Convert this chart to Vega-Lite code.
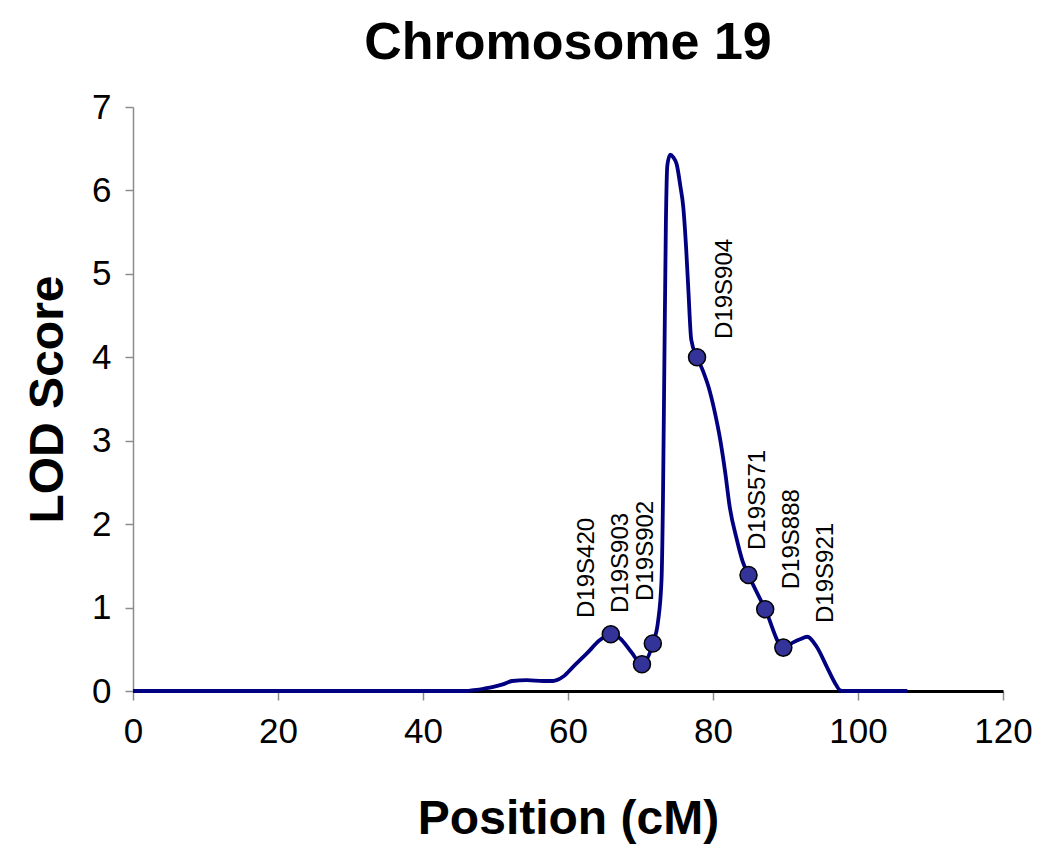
{
  "$schema": "https://vega.github.io/schema/vega-lite/v6.json",
  "width": 870,
  "height": 584,
  "autosize": "none",
  "padding": {"left": 133, "top": 107, "right": 47, "bottom": 158},
  "background": "white",
  "title": {
    "text": "Chromosome 19",
    "font": "Liberation Sans",
    "fontSize": 52,
    "fontWeight": "bold",
    "color": "black",
    "anchor": "middle",
    "baseline": "alphabetic",
    "offset": -21
  },
  "config": {
    "view": {"stroke": null},
    "axis": {
      "grid": false,
      "labelFont": "Liberation Sans",
      "labelFontSize": 35,
      "labelColor": "black",
      "labelFlush": false,
      "labelOverlap": false,
      "titleFont": "Liberation Sans",
      "titleFontSize": 48,
      "titleFontWeight": "bold",
      "titleColor": "black",
      "tickColor": "#8c8c8c",
      "tickWidth": 1.5,
      "domainColor": "#8c8c8c",
      "domainWidth": 1.5
    }
  },
  "datasets": {
    "curve": [
      {"pos": 0, "lod": 0},
      {"pos": 46, "lod": 0},
      {"pos": 47, "lod": 0.01},
      {"pos": 48.5, "lod": 0.03},
      {"pos": 49.7, "lod": 0.05},
      {"pos": 51, "lod": 0.08},
      {"pos": 52.3, "lod": 0.12},
      {"pos": 54.3, "lod": 0.13},
      {"pos": 56.6, "lod": 0.12},
      {"pos": 57.9, "lod": 0.12},
      {"pos": 59.3, "lod": 0.17},
      {"pos": 60.7, "lod": 0.29},
      {"pos": 62.6, "lod": 0.45},
      {"pos": 64.4, "lod": 0.61},
      {"pos": 65.9, "lod": 0.68},
      {"pos": 67.2, "lod": 0.63},
      {"pos": 68.7, "lod": 0.47},
      {"pos": 70.2, "lod": 0.32},
      {"pos": 71.7, "lod": 0.57},
      {"pos": 72.4, "lod": 0.82},
      {"pos": 72.9, "lod": 1.33},
      {"pos": 73.1, "lod": 2.3},
      {"pos": 73.3, "lod": 4.0},
      {"pos": 73.5, "lod": 5.6},
      {"pos": 73.7, "lod": 6.3},
      {"pos": 74.1, "lod": 6.43},
      {"pos": 74.5, "lod": 6.4},
      {"pos": 75.0, "lod": 6.31},
      {"pos": 75.5, "lod": 6.05},
      {"pos": 75.9, "lod": 5.8},
      {"pos": 76.3, "lod": 5.3},
      {"pos": 76.6, "lod": 4.81},
      {"pos": 77.0, "lod": 4.21},
      {"pos": 77.8, "lod": 4.0},
      {"pos": 78.6, "lod": 3.84},
      {"pos": 79.4, "lod": 3.64},
      {"pos": 80.2, "lod": 3.36},
      {"pos": 81.0, "lod": 3.01},
      {"pos": 81.7, "lod": 2.61},
      {"pos": 82.3, "lod": 2.21},
      {"pos": 83.3, "lod": 1.81},
      {"pos": 84.1, "lod": 1.55},
      {"pos": 84.9, "lod": 1.39},
      {"pos": 87.2, "lod": 0.98},
      {"pos": 89.7, "lod": 0.52},
      {"pos": 91.0, "lod": 0.58},
      {"pos": 92.0, "lod": 0.62},
      {"pos": 93.0, "lod": 0.65},
      {"pos": 94.3, "lod": 0.53},
      {"pos": 95.7, "lod": 0.29},
      {"pos": 96.8, "lod": 0.1},
      {"pos": 97.5, "lod": 0.01},
      {"pos": 98, "lod": 0},
      {"pos": 106.8, "lod": 0}
    ],
    "markers": [
      {"marker": "D19S420", "pos": 65.9, "lod": 0.68, "lx": 62.6, "ly": 0.875},
      {"marker": "D19S903", "pos": 70.2, "lod": 0.32, "lx": 67.3, "ly": 0.935},
      {"marker": "D19S902", "pos": 71.7, "lod": 0.57, "lx": 70.8, "ly": 1.08},
      {"marker": "D19S904", "pos": 77.8, "lod": 4.0, "lx": 81.7, "ly": 4.22},
      {"marker": "D19S571", "pos": 84.9, "lod": 1.39, "lx": 86.2, "ly": 1.69},
      {"marker": "D19S888", "pos": 87.2, "lod": 0.98, "lx": 90.9, "ly": 1.22},
      {"marker": "D19S921", "pos": 89.7, "lod": 0.52, "lx": 95.6, "ly": 0.815}
    ]
  },
  "layer": [
    {
      "data": {"name": "curve"},
      "mark": {"type": "line", "color": "#000080", "strokeWidth": 3.8, "interpolate": "monotone"},
      "encoding": {
        "x": {
          "field": "pos",
          "type": "quantitative",
          "scale": {"domain": [0, 120], "nice": false},
          "axis": {
            "title": "Position (cM)",
            "values": [0, 20, 40, 60, 80, 100, 120],
            "format": "d",
            "tickSize": 9,
            "labelPadding": 14,
            "titlePadding": 46,
            "domainColor": "black",
            "domainWidth": 3
          }
        },
        "y": {
          "field": "lod",
          "type": "quantitative",
          "scale": {"domain": [0, 7], "nice": false},
          "axis": {
            "title": "LOD Score",
            "values": [0, 1, 2, 3, 4, 5, 6, 7],
            "format": "d",
            "tickSize": 8,
            "labelPadding": 14,
            "titlePadding": 19
          }
        }
      }
    },
    {
      "data": {"name": "markers"},
      "mark": {"type": "point", "shape": "circle", "filled": true, "fill": "#333399", "stroke": "black", "strokeWidth": 1.5, "size": 290, "opacity": 1},
      "encoding": {
        "x": {"field": "pos", "type": "quantitative"},
        "y": {"field": "lod", "type": "quantitative"}
      }
    },
    {
      "data": {"name": "markers"},
      "mark": {"type": "text", "angle": 270, "align": "left", "baseline": "middle", "font": "Liberation Sans", "fontSize": 24, "color": "black"},
      "encoding": {
        "x": {"field": "lx", "type": "quantitative"},
        "y": {"field": "ly", "type": "quantitative"},
        "text": {"field": "marker"}
      }
    }
  ]
}
